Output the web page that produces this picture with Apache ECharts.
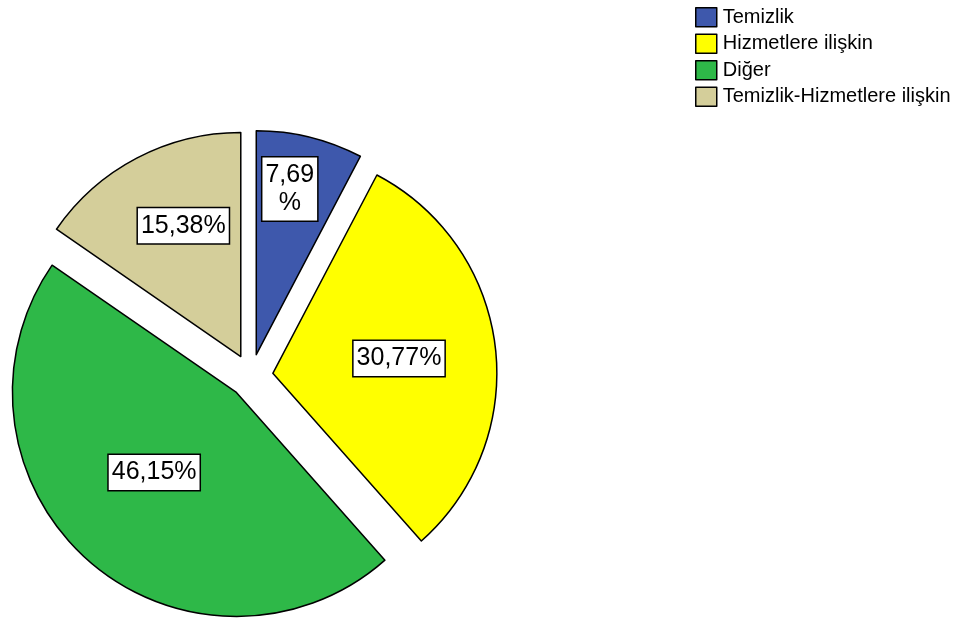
<!DOCTYPE html>
<html>
<head>
<meta charset="utf-8">
<script src="https://cdn.jsdelivr.net/npm/echarts@6/dist/echarts.min.js"></script>
<style>
html,body{margin:0;padding:0;background:#fff;}
#chart{width:962px;height:620px;}
</style>
</head>
<body>
<div id="chart"></div>
<script>
var categories = ['Temizlik', 'Hizmetlere ilişkin', 'Diğer', 'Temizlik-Hizmetlere ilişkin'];
var values = [7.69, 30.77, 46.15, 15.38];
var colors = ['#3E58AC', '#FFFF00', '#2EB848', '#D4CE9A'];
var labelShifts = [[6, -54], [12, -1], [-6, -6], [-4, -29]];

var chart = echarts.init(document.getElementById('chart'), null, {renderer: 'canvas'});

function fmt(v) {
  return v.toFixed(2).replace('.', ',');
}

var data = categories.map(function (c, i) {
  return {
    name: c,
    value: values[i],
    selected: true,
    itemStyle: {color: colors[i]}
  };
});

chart.setOption({
  animation: false,
  legend: {
    orient: 'vertical',
    left: 690,
    top: 2,
    icon: 'rect',
    itemWidth: 21,
    itemHeight: 19,
    itemGap: 6,
    selectedMode: false,
    textStyle: {
      fontFamily: 'Liberation Sans, Arial, sans-serif',
      fontSize: 20,
      color: '#000',
      padding: [0, 0, 0, 1]
    },
    itemStyle: {borderColor: '#000', borderWidth: 1.5},
    data: categories
  },
  series: [{
    type: 'pie',
    center: [251, 376],
    radius: 224,
    startAngle: 90,
    clockwise: true,
    selectedMode: 'multiple',
    selectedOffset: 22,
    avoidLabelOverlap: false,
    itemStyle: {borderColor: '#000', borderWidth: 1.5},
    emphasis: {disabled: true},
    select: {itemStyle: {borderColor: '#000', borderWidth: 1.5}},
    label: {
      show: true,
      position: 'inside',
      fontFamily: 'Liberation Sans, Arial, sans-serif',
      fontSize: 25,
      lineHeight: 28,
      color: '#000',
      backgroundColor: '#fff',
      borderColor: '#000',
      borderWidth: 1.5,
      padding: [4, 3, 3, 3],
      formatter: function (p) {
        var s = fmt(p.value);
        return p.value < 10 ? s + '\n%' : s + '%';
      }
    },
    labelLayout: function (params) {
      var s = labelShifts[params.dataIndex];
      return {dx: s[0], dy: s[1]};
    },
    labelLine: {show: false},
    data: data
  }]
});
</script>
</body>
</html>
